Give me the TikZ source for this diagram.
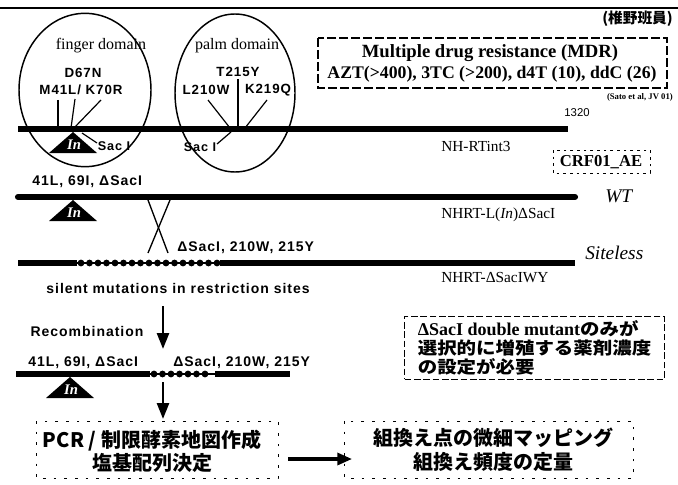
\documentclass[tikz,border=0pt]{standalone}
\usepackage{fontspec}
\setmainfont{Liberation Serif}
\setsansfont{Liberation Sans}
\newfontfamily\spc{Liberation Sans}[LetterSpace=7]
\newfontfamily\jp{Noto Sans CJK JP}
\newfontfamily\jpw{Noto Sans CJK JP}[FakeStretch=1.14]
\usetikzlibrary{arrows.meta,shapes.geometric}
\begin{document}
\begin{tikzpicture}[x=0.75pt,y=-0.75pt,
  bar/.style={line width=4.6pt},
  mut/.style={font=\spc\bfseries\fontsize{10}{11}\selectfont, inner sep=0pt},
  seq/.style={font=\spc\bfseries\fontsize{10.5}{11}\selectfont, inner sep=0pt, anchor=west},
  smut/.style={font=\spc\bfseries\fontsize{9.5}{10}\selectfont, inner sep=0pt},
  dom/.style={font=\fontsize{12}{13}\selectfont, inner sep=0pt},
  rlab/.style={font=\fontsize{11.5}{12}\selectfont, inner sep=0pt, anchor=west},
  ilab/.style={font=\itshape\fontsize{14.5}{15}\selectfont, inner sep=0pt, anchor=west},
  tick/.style={line width=0.9pt},
  dom ell/.style={draw, ellipse, line width=1.1pt, inner sep=0pt},
  arr/.style={line width=2pt, -{Triangle[length=12pt,width=9pt]}},
  pbox/.style={line width=0.6pt, dash pattern=on 2pt off 6pt},
  jtxt/.style={font=\jp\bfseries\fontsize{14.5}{17.5}\selectfont, align=center, inner sep=0pt},
  intri/.pic={\fill (0,0) -- (24,21) -- (-24,21) -- cycle;
              \node[inner sep=0pt, text=white, font=\bfseries\itshape\fontsize{11}{11}\selectfont] at (1,13) {In};}
]
\useasboundingbox (0,0) rectangle (678,485);
% top rule
\coordinate (tl) at (0,8); \coordinate (tr) at (678,8);
\draw[line width=1.4pt] (tl) -- (tr);
\node[font=\jp\bfseries\fontsize{11}{12}\selectfont, anchor=east, inner sep=0pt] (author) at (673,19) {(椎野班員)};

% domains
\node[dom ell, minimum width=99pt, minimum height=115pt] (finger) at (85,90) {};
\node[dom ell, minimum width=90pt, minimum height=118.5pt] (palm) at (235,93) {};
\node[dom] (fdl) at (101,46) {finger domain};
\node[dom] (pdl) at (237,46) {palm domain};

% bar 1
\coordinate (b1s) at (18,129); \coordinate (b1e) at (568,129);
\draw[bar] (b1s) -- (b1e);
\node[font=\sffamily\fontsize{8.5}{9}\selectfont, inner sep=0pt] (n1320) at (577,113) {1320};
\node[rlab] (nhrt) at (441,146) {NH-RTint3};

% finger mutations
\node[mut] (d67) at (83,73) {D67N};
\node[mut] (m41) at (81,90) {M41L/ K70R};
\coordinate (m41a) at (58,100); \coordinate (m41b) at (58,128);
\coordinate (d67a) at (75,99); \coordinate (d67b) at (71,128);
\coordinate (k70a) at (101,100); \coordinate (k70b) at (74,128);
\draw[tick] (m41a) -- (m41b);
\draw[tick] (d67a) -- (d67b);
\draw[tick] (k70a) -- (k70b);
\pic at (73,132) {intri};
\coordinate (sf1) at (82,133); \coordinate (sf2) at (97,143);
\draw[tick] (sf1) -- (sf2);
\node[smut] (sacf) at (114,146) {Sac I};

% palm mutations
\node[mut] (t215) at (238,72) {T215Y};
\node[mut] (l210) at (206,90) {L210W};
\node[mut] (k219) at (268,90) {K219Q};
\coordinate (t2a) at (238,79); \coordinate (t2b) at (238,128);
\coordinate (l2a) at (208,100); \coordinate (l2b) at (230,128);
\coordinate (k2a) at (267,100); \coordinate (k2b) at (245,128);
\draw[tick] (t2a) -- (t2b);
\draw[tick] (l2a) -- (l2b);
\draw[tick] (k2a) -- (k2b);
\coordinate (sp1) at (231,132); \coordinate (sp2) at (217,144);
\draw[tick] (sp1) -- (sp2);
\node[smut] (sacp) at (200,147) {Sac I};

% MDR box
\draw[line width=0.9pt, dash pattern=on 7pt off 2pt] (318,38) rectangle (667,88);
\node[font=\bfseries\fontsize{14}{15}\selectfont, inner sep=0pt] (mdr) at (490,53) {Multiple drug resistance (MDR)};
\node[font=\bfseries\fontsize{13.3}{14}\selectfont, inner sep=0pt] (drugs) at (492,74) {AZT(>400), 3TC (>200), d4T (10), ddC (26)};
\node[font=\bfseries\fontsize{6.5}{7}\selectfont, anchor=east, inner sep=0pt] (sato) at (673,97) {(Sato et al, JV 01)};

% CRF box
\draw[line width=0.6pt, dash pattern=on 2pt off 3pt] (553,150) rectangle (650,173);
\node[font=\bfseries\fontsize{12.5}{14}\selectfont, inner sep=0pt] (crf) at (601,162) {CRF01\_AE};

% bar 2
\node[seq] (l2) at (32,182) {41L, 69I, ΔSacI};
\coordinate (b2s) at (18,197); \coordinate (b2e) at (575,197);
\draw[bar, line cap=round] (b2s) -- (b2e);
\pic at (73,200) {intri};
\node[ilab] (wt) at (605,196) {WT};
\node[rlab] (nhrtl) at (441,215) {NHRT-L(\textit{In})ΔSacI};

% crossover X
\coordinate (xa1) at (148,200); \coordinate (xa2) at (168,253);
\coordinate (xb1) at (170,200); \coordinate (xb2) at (148,253);
\draw[line width=1pt] (xa1) -- (xa2);
\draw[line width=1pt] (xb1) -- (xb2);
\node[seq] (l3) at (177,248) {ΔSacI, 210W, 215Y};

% bar 3 with silent mutation dots
\coordinate (b3s) at (18,263); \coordinate (b3m1) at (77,263);
\coordinate (b3m2) at (220,263); \coordinate (b3e) at (575,263);
\draw[bar] (b3s) -- (b3m1);
\draw[bar] (b3m2) -- (b3e);
\draw[line width=1.2pt] (b3m1) -- (b3m2);
\foreach \x in {81,89.5,...,218} \fill (\x,263) circle[radius=3.4];
\node[ilab] (site) at (585,253) {Siteless};
\node[rlab] (nhrtw) at (441,278) {NHRT-ΔSacIWY};

\node[font=\spc\bfseries\fontsize{10.5}{11}\selectfont, inner sep=0pt] (silent) at (178,288) {silent mutations in restriction sites};

% recombination
\coordinate (a1s) at (163,306); \coordinate (a1e) at (163,349);
\draw[arr] (a1s) -- (a1e);
\node[font=\spc\bfseries\fontsize{10.5}{11}\selectfont, inner sep=0pt] (rec) at (87,331) {Recombination};

\node[seq] (l4a) at (28,363) {41L, 69I, ΔSacI};
\node[seq] (l4b) at (173,363) {ΔSacI, 210W, 215Y};
\coordinate (b4s) at (16,374); \coordinate (b4m1) at (150,374);
\coordinate (b4m2) at (215,374); \coordinate (b4e) at (290,374);
\draw[bar] (b4s) -- (b4m1);
\draw[bar] (b4m2) -- (b4e);
\draw[line width=1.2pt] (b4m1) -- (b4m2);
\foreach \x in {154,162.5,...,212} \fill (\x,374) circle[radius=3.4];
\pic at (70,377) {intri};

\coordinate (a2s) at (163,382); \coordinate (a2e) at (163,419);
\draw[arr] (a2s) -- (a2e);

% Japanese note box
\node[draw, line width=0.8pt, dash pattern=on 5pt off 2pt, anchor=north west, align=left,
      inner xsep=4pt, inner ysep=3pt, minimum width=195pt,
      font=\jpw\bfseries\fontsize{12.8}{14.2}\selectfont] (note) at (404,316)
  {{\rmfamily\bfseries\fontsize{13.5}{14.2}\selectfont ΔSacI double mutant}のみが\\選択的に増殖する薬剤濃度\\の設定が必要};

% result boxes
\coordinate (p1) at (36,421); \coordinate (p2) at (278,478);
\draw[pbox] (p1) rectangle (p2);
\node[jtxt, font=\jp\bfseries\fontsize{15}{17.5}\selectfont] (pcr) at (152,451) {PCR / 制限酵素地図作成\\塩基配列決定};
\coordinate (m1) at (344,421); \coordinate (m2) at (633,478);
\draw[pbox] (m1) rectangle (m2);
\node[jtxt, font=\jp\bfseries\fontsize{15}{18}\selectfont] (map) at (493,450) {組換え点の微細マッピング\\組換え頻度の定量};

\coordinate (a3s) at (288,459); \coordinate (a3e) at (352,459);
\draw[line width=2.4pt, -{Triangle[length=11pt,width=9pt]}] (a3s) -- (a3e);
\end{tikzpicture}
\end{document}
